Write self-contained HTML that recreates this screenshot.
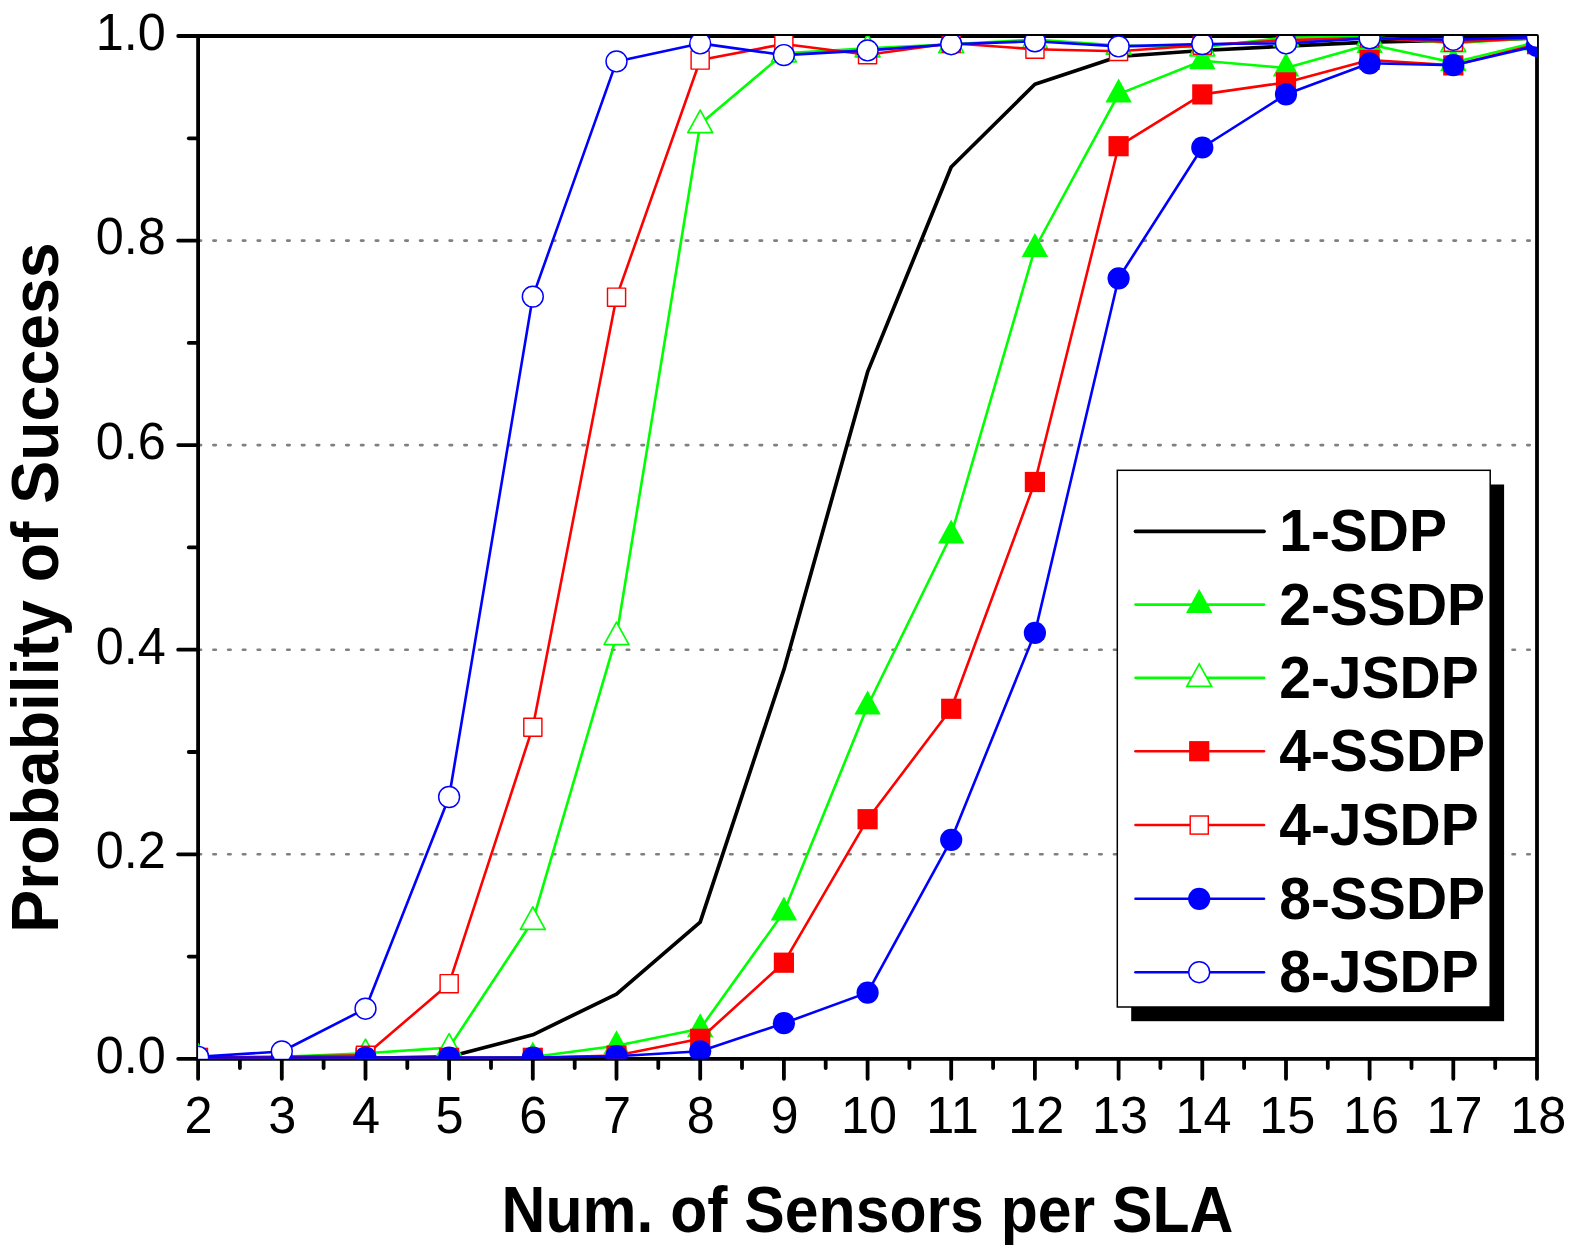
<!DOCTYPE html>
<html><head><meta charset="utf-8"><title>Probability of Success</title>
<style>
html,body{margin:0;padding:0;background:#fff;}
svg{display:block;}
text{font-family:"Liberation Sans",sans-serif;fill:#000;}
.tk{font-size:52.5px;}
.ttl{font-weight:bold;}
.lg{font-size:60px;font-weight:bold;}
</style></head><body>
<svg width="1575" height="1256" viewBox="0 0 1575 1256">
<rect width="1575" height="1256" fill="#fff"/>
<defs><clipPath id="pc"><rect x="198.1" y="36.0" width="1338.9" height="1022.8"/></clipPath></defs>

<g stroke="#808080" stroke-width="2.6" stroke-linecap="round" stroke-dasharray="2.5 12.263" fill="none">
<line x1="198.6" y1="854.3" x2="1533.0" y2="854.3"/>
<line x1="198.6" y1="649.7" x2="1533.0" y2="649.7"/>
<line x1="198.6" y1="445.1" x2="1533.0" y2="445.1"/>
<line x1="198.6" y1="240.6" x2="1533.0" y2="240.6"/>
</g>
<g stroke="#000" stroke-width="3.8" stroke-linecap="round" fill="none">
<rect x="198.1" y="36.0" width="1338.9" height="1022.8" stroke-linejoin="round"/>
<line x1="198.1" y1="1058.8" x2="198.1" y2="1078.8"/>
<line x1="239.9" y1="1058.8" x2="239.9" y2="1068.1"/>
<line x1="281.8" y1="1058.8" x2="281.8" y2="1078.8"/>
<line x1="323.6" y1="1058.8" x2="323.6" y2="1068.1"/>
<line x1="365.5" y1="1058.8" x2="365.5" y2="1078.8"/>
<line x1="407.3" y1="1058.8" x2="407.3" y2="1068.1"/>
<line x1="449.1" y1="1058.8" x2="449.1" y2="1078.8"/>
<line x1="491.0" y1="1058.8" x2="491.0" y2="1068.1"/>
<line x1="532.8" y1="1058.8" x2="532.8" y2="1078.8"/>
<line x1="574.7" y1="1058.8" x2="574.7" y2="1068.1"/>
<line x1="616.5" y1="1058.8" x2="616.5" y2="1078.8"/>
<line x1="658.3" y1="1058.8" x2="658.3" y2="1068.1"/>
<line x1="700.2" y1="1058.8" x2="700.2" y2="1078.8"/>
<line x1="742.0" y1="1058.8" x2="742.0" y2="1068.1"/>
<line x1="783.9" y1="1058.8" x2="783.9" y2="1078.8"/>
<line x1="825.7" y1="1058.8" x2="825.7" y2="1068.1"/>
<line x1="867.6" y1="1058.8" x2="867.6" y2="1078.8"/>
<line x1="909.4" y1="1058.8" x2="909.4" y2="1068.1"/>
<line x1="951.2" y1="1058.8" x2="951.2" y2="1078.8"/>
<line x1="993.1" y1="1058.8" x2="993.1" y2="1068.1"/>
<line x1="1034.9" y1="1058.8" x2="1034.9" y2="1078.8"/>
<line x1="1076.8" y1="1058.8" x2="1076.8" y2="1068.1"/>
<line x1="1118.6" y1="1058.8" x2="1118.6" y2="1078.8"/>
<line x1="1160.4" y1="1058.8" x2="1160.4" y2="1068.1"/>
<line x1="1202.3" y1="1058.8" x2="1202.3" y2="1078.8"/>
<line x1="1244.1" y1="1058.8" x2="1244.1" y2="1068.1"/>
<line x1="1286.0" y1="1058.8" x2="1286.0" y2="1078.8"/>
<line x1="1327.8" y1="1058.8" x2="1327.8" y2="1068.1"/>
<line x1="1369.6" y1="1058.8" x2="1369.6" y2="1078.8"/>
<line x1="1411.5" y1="1058.8" x2="1411.5" y2="1068.1"/>
<line x1="1453.3" y1="1058.8" x2="1453.3" y2="1078.8"/>
<line x1="1495.2" y1="1058.8" x2="1495.2" y2="1068.1"/>
<line x1="1537.0" y1="1058.8" x2="1537.0" y2="1078.8"/>
<line x1="198.1" y1="1058.8" x2="178.2" y2="1058.8"/>
<line x1="198.1" y1="956.6" x2="188.8" y2="956.6"/>
<line x1="198.1" y1="854.3" x2="178.2" y2="854.3"/>
<line x1="198.1" y1="752.0" x2="188.8" y2="752.0"/>
<line x1="198.1" y1="649.7" x2="178.2" y2="649.7"/>
<line x1="198.1" y1="547.4" x2="188.8" y2="547.4"/>
<line x1="198.1" y1="445.1" x2="178.2" y2="445.1"/>
<line x1="198.1" y1="342.9" x2="188.8" y2="342.9"/>
<line x1="198.1" y1="240.6" x2="178.2" y2="240.6"/>
<line x1="198.1" y1="138.3" x2="188.8" y2="138.3"/>
<line x1="198.1" y1="36.0" x2="178.2" y2="36.0"/>
</g>
<g clip-path="url(#pc)" fill="none" stroke-linejoin="round">
<polyline points="198.1,1058.3 281.8,1058.3 365.5,1058.3 449.1,1056.8 532.8,1034.8 616.5,994.1 700.2,922.2 783.9,669.7 867.6,371.9 951.2,167.0 1034.9,84.3 1118.6,56.5 1202.3,50.5 1286.0,46.2 1369.6,42.1 1453.3,40.1 1537.0,38.0" stroke="#000" stroke-width="3.7"/>
<polyline points="198.1,1058.3 281.8,1058.3 365.5,1058.3 449.1,1058.3 532.8,1057.0 616.5,1045.8 700.2,1028.8 783.9,912.1 867.6,706.0 951.2,535.0 1034.9,248.5 1118.6,94.1 1202.3,60.7 1286.0,68.0 1369.6,44.4 1453.3,62.4 1537.0,42.1" stroke="#00ff00" stroke-width="2.6"/>
<polygon points="198.1,1042.7 211.3,1066.8 184.9,1066.8" fill="#00ff00"/>
<polygon points="281.8,1042.7 295.0,1066.8 268.6,1066.8" fill="#00ff00"/>
<polygon points="365.5,1042.7 378.7,1066.8 352.3,1066.8" fill="#00ff00"/>
<polygon points="449.1,1042.7 462.3,1066.8 435.9,1066.8" fill="#00ff00"/>
<polygon points="532.8,1041.4 546.0,1065.5 519.6,1065.5" fill="#00ff00"/>
<polygon points="616.5,1030.2 629.7,1054.3 603.3,1054.3" fill="#00ff00"/>
<polygon points="700.2,1013.2 713.4,1037.3 687.0,1037.3" fill="#00ff00"/>
<polygon points="783.9,896.5 797.1,920.6 770.7,920.6" fill="#00ff00"/>
<polygon points="867.6,690.4 880.8,714.5 854.4,714.5" fill="#00ff00"/>
<polygon points="951.2,519.4 964.4,543.5 938.0,543.5" fill="#00ff00"/>
<polygon points="1034.9,232.9 1048.1,257.0 1021.7,257.0" fill="#00ff00"/>
<polygon points="1118.6,78.5 1131.8,102.6 1105.4,102.6" fill="#00ff00"/>
<polygon points="1202.3,45.1 1215.5,69.2 1189.1,69.2" fill="#00ff00"/>
<polygon points="1286.0,52.4 1299.2,76.5 1272.8,76.5" fill="#00ff00"/>
<polygon points="1369.6,28.8 1382.8,52.9 1356.4,52.9" fill="#00ff00"/>
<polygon points="1453.3,46.8 1466.5,70.9 1440.1,70.9" fill="#00ff00"/>
<polygon points="1537.0,26.5 1550.2,50.6 1523.8,50.6" fill="#00ff00"/>
<polyline points="198.1,1057.8 281.8,1056.8 365.5,1053.2 449.1,1047.6 532.8,920.8 616.5,636.1 700.2,124.1 783.9,53.4 867.6,48.3 951.2,44.2 1034.9,39.6 1118.6,45.6 1202.3,47.3 1286.0,37.5 1369.6,37.0 1453.3,43.2 1537.0,38.0" stroke="#00ff00" stroke-width="2.6"/>
<polygon points="198.1,1043.8 210.5,1066.3 185.7,1066.3" fill="#fff" stroke="#00ff00" stroke-width="1.7"/>
<polygon points="281.8,1042.8 294.2,1065.3 269.4,1065.3" fill="#fff" stroke="#00ff00" stroke-width="1.7"/>
<polygon points="365.5,1039.2 377.9,1061.7 353.1,1061.7" fill="#fff" stroke="#00ff00" stroke-width="1.7"/>
<polygon points="449.1,1033.6 461.5,1056.1 436.7,1056.1" fill="#fff" stroke="#00ff00" stroke-width="1.7"/>
<polygon points="532.8,906.8 545.2,929.3 520.4,929.3" fill="#fff" stroke="#00ff00" stroke-width="1.7"/>
<polygon points="616.5,622.1 628.9,644.6 604.1,644.6" fill="#fff" stroke="#00ff00" stroke-width="1.7"/>
<polygon points="700.2,110.1 712.6,132.6 687.8,132.6" fill="#fff" stroke="#00ff00" stroke-width="1.7"/>
<polygon points="783.9,39.4 796.3,61.9 771.5,61.9" fill="#fff" stroke="#00ff00" stroke-width="1.7"/>
<polygon points="867.6,34.3 880.0,56.8 855.2,56.8" fill="#fff" stroke="#00ff00" stroke-width="1.7"/>
<polygon points="951.2,30.2 963.6,52.7 938.8,52.7" fill="#fff" stroke="#00ff00" stroke-width="1.7"/>
<polygon points="1034.9,25.6 1047.3,48.1 1022.5,48.1" fill="#fff" stroke="#00ff00" stroke-width="1.7"/>
<polygon points="1118.6,31.6 1131.0,54.1 1106.2,54.1" fill="#fff" stroke="#00ff00" stroke-width="1.7"/>
<polygon points="1202.3,33.3 1214.7,55.8 1189.9,55.8" fill="#fff" stroke="#00ff00" stroke-width="1.7"/>
<polygon points="1286.0,23.5 1298.4,46.0 1273.6,46.0" fill="#fff" stroke="#00ff00" stroke-width="1.7"/>
<polygon points="1369.6,23.0 1382.0,45.5 1357.2,45.5" fill="#fff" stroke="#00ff00" stroke-width="1.7"/>
<polygon points="1453.3,29.2 1465.7,51.7 1440.9,51.7" fill="#fff" stroke="#00ff00" stroke-width="1.7"/>
<polygon points="1537.0,24.0 1549.4,46.5 1524.6,46.5" fill="#fff" stroke="#00ff00" stroke-width="1.7"/>
<polyline points="198.1,1057.8 281.8,1057.8 365.5,1057.8 449.1,1057.8 532.8,1057.8 616.5,1055.5 700.2,1038.8 783.9,962.7 867.6,819.2 951.2,708.8 1034.9,482.0 1118.6,146.2 1202.3,94.4 1286.0,82.4 1369.6,60.0 1453.3,65.4 1537.0,44.2" stroke="#ff0000" stroke-width="2.6"/>
<rect x="188.0" y="1047.7" width="20.2" height="20.2" fill="#ff0000"/>
<rect x="271.7" y="1047.7" width="20.2" height="20.2" fill="#ff0000"/>
<rect x="355.4" y="1047.7" width="20.2" height="20.2" fill="#ff0000"/>
<rect x="439.0" y="1047.7" width="20.2" height="20.2" fill="#ff0000"/>
<rect x="522.7" y="1047.7" width="20.2" height="20.2" fill="#ff0000"/>
<rect x="606.4" y="1045.4" width="20.2" height="20.2" fill="#ff0000"/>
<rect x="690.1" y="1028.7" width="20.2" height="20.2" fill="#ff0000"/>
<rect x="773.8" y="952.6" width="20.2" height="20.2" fill="#ff0000"/>
<rect x="857.5" y="809.1" width="20.2" height="20.2" fill="#ff0000"/>
<rect x="941.1" y="698.7" width="20.2" height="20.2" fill="#ff0000"/>
<rect x="1024.8" y="471.9" width="20.2" height="20.2" fill="#ff0000"/>
<rect x="1108.5" y="136.1" width="20.2" height="20.2" fill="#ff0000"/>
<rect x="1192.2" y="84.3" width="20.2" height="20.2" fill="#ff0000"/>
<rect x="1275.9" y="72.3" width="20.2" height="20.2" fill="#ff0000"/>
<rect x="1359.5" y="49.9" width="20.2" height="20.2" fill="#ff0000"/>
<rect x="1443.2" y="55.3" width="20.2" height="20.2" fill="#ff0000"/>
<rect x="1526.9" y="34.1" width="20.2" height="20.2" fill="#ff0000"/>
<polyline points="198.1,1057.8 281.8,1056.8 365.5,1055.3 449.1,983.7 532.8,727.2 616.5,297.1 700.2,60.0 783.9,44.0 867.6,54.7 951.2,43.2 1034.9,49.3 1118.6,51.3 1202.3,45.2 1286.0,40.1 1369.6,38.0 1453.3,42.1 1537.0,38.0" stroke="#ff0000" stroke-width="2.6"/>
<rect x="189.0" y="1048.8" width="18.1" height="18.1" fill="#fff" stroke="#ff0000" stroke-width="1.45"/>
<rect x="272.7" y="1047.8" width="18.1" height="18.1" fill="#fff" stroke="#ff0000" stroke-width="1.45"/>
<rect x="356.4" y="1046.2" width="18.1" height="18.1" fill="#fff" stroke="#ff0000" stroke-width="1.45"/>
<rect x="440.1" y="974.6" width="18.1" height="18.1" fill="#fff" stroke="#ff0000" stroke-width="1.45"/>
<rect x="523.8" y="718.2" width="18.1" height="18.1" fill="#fff" stroke="#ff0000" stroke-width="1.45"/>
<rect x="607.5" y="288.1" width="18.1" height="18.1" fill="#fff" stroke="#ff0000" stroke-width="1.45"/>
<rect x="691.1" y="51.0" width="18.1" height="18.1" fill="#fff" stroke="#ff0000" stroke-width="1.45"/>
<rect x="774.8" y="34.9" width="18.1" height="18.1" fill="#fff" stroke="#ff0000" stroke-width="1.45"/>
<rect x="858.5" y="45.7" width="18.1" height="18.1" fill="#fff" stroke="#ff0000" stroke-width="1.45"/>
<rect x="942.2" y="34.1" width="18.1" height="18.1" fill="#fff" stroke="#ff0000" stroke-width="1.45"/>
<rect x="1025.9" y="40.2" width="18.1" height="18.1" fill="#fff" stroke="#ff0000" stroke-width="1.45"/>
<rect x="1109.5" y="42.3" width="18.1" height="18.1" fill="#fff" stroke="#ff0000" stroke-width="1.45"/>
<rect x="1193.2" y="36.2" width="18.1" height="18.1" fill="#fff" stroke="#ff0000" stroke-width="1.45"/>
<rect x="1276.9" y="31.0" width="18.1" height="18.1" fill="#fff" stroke="#ff0000" stroke-width="1.45"/>
<rect x="1360.6" y="29.0" width="18.1" height="18.1" fill="#fff" stroke="#ff0000" stroke-width="1.45"/>
<rect x="1444.3" y="33.1" width="18.1" height="18.1" fill="#fff" stroke="#ff0000" stroke-width="1.45"/>
<rect x="1528.0" y="29.0" width="18.1" height="18.1" fill="#fff" stroke="#ff0000" stroke-width="1.45"/>
<polyline points="198.1,1057.6 281.8,1057.6 365.5,1057.6 449.1,1057.6 532.8,1057.6 616.5,1056.2 700.2,1051.3 783.9,1023.2 867.6,992.6 951.2,839.8 1034.9,632.9 1118.6,278.3 1202.3,147.5 1286.0,94.3 1369.6,63.3 1453.3,65.2 1537.0,45.8" stroke="#0000ff" stroke-width="2.6"/>
<circle cx="198.1" cy="1057.6" r="11.1" fill="#0000ff"/>
<circle cx="281.8" cy="1057.6" r="11.1" fill="#0000ff"/>
<circle cx="365.5" cy="1057.6" r="11.1" fill="#0000ff"/>
<circle cx="449.1" cy="1057.6" r="11.1" fill="#0000ff"/>
<circle cx="532.8" cy="1057.6" r="11.1" fill="#0000ff"/>
<circle cx="616.5" cy="1056.2" r="11.1" fill="#0000ff"/>
<circle cx="700.2" cy="1051.3" r="11.1" fill="#0000ff"/>
<circle cx="783.9" cy="1023.2" r="11.1" fill="#0000ff"/>
<circle cx="867.6" cy="992.6" r="11.1" fill="#0000ff"/>
<circle cx="951.2" cy="839.8" r="11.1" fill="#0000ff"/>
<circle cx="1034.9" cy="632.9" r="11.1" fill="#0000ff"/>
<circle cx="1118.6" cy="278.3" r="11.1" fill="#0000ff"/>
<circle cx="1202.3" cy="147.5" r="11.1" fill="#0000ff"/>
<circle cx="1286.0" cy="94.3" r="11.1" fill="#0000ff"/>
<circle cx="1369.6" cy="63.3" r="11.1" fill="#0000ff"/>
<circle cx="1453.3" cy="65.2" r="11.1" fill="#0000ff"/>
<circle cx="1537.0" cy="45.8" r="11.1" fill="#0000ff"/>
<polyline points="198.1,1056.8 281.8,1051.5 365.5,1008.7 449.1,797.0 532.8,296.6 616.5,61.4 700.2,43.4 783.9,55.1 867.6,50.4 951.2,44.2 1034.9,41.3 1118.6,46.4 1202.3,44.0 1286.0,43.4 1369.6,38.3 1453.3,39.7 1537.0,37.0" stroke="#0000ff" stroke-width="2.6"/>
<circle cx="198.1" cy="1056.8" r="10.45" fill="#fff" stroke="#0000ff" stroke-width="1.45"/>
<circle cx="281.8" cy="1051.5" r="10.45" fill="#fff" stroke="#0000ff" stroke-width="1.45"/>
<circle cx="365.5" cy="1008.7" r="10.45" fill="#fff" stroke="#0000ff" stroke-width="1.45"/>
<circle cx="449.1" cy="797.0" r="10.45" fill="#fff" stroke="#0000ff" stroke-width="1.45"/>
<circle cx="532.8" cy="296.6" r="10.45" fill="#fff" stroke="#0000ff" stroke-width="1.45"/>
<circle cx="616.5" cy="61.4" r="10.45" fill="#fff" stroke="#0000ff" stroke-width="1.45"/>
<circle cx="700.2" cy="43.4" r="10.45" fill="#fff" stroke="#0000ff" stroke-width="1.45"/>
<circle cx="783.9" cy="55.1" r="10.45" fill="#fff" stroke="#0000ff" stroke-width="1.45"/>
<circle cx="867.6" cy="50.4" r="10.45" fill="#fff" stroke="#0000ff" stroke-width="1.45"/>
<circle cx="951.2" cy="44.2" r="10.45" fill="#fff" stroke="#0000ff" stroke-width="1.45"/>
<circle cx="1034.9" cy="41.3" r="10.45" fill="#fff" stroke="#0000ff" stroke-width="1.45"/>
<circle cx="1118.6" cy="46.4" r="10.45" fill="#fff" stroke="#0000ff" stroke-width="1.45"/>
<circle cx="1202.3" cy="44.0" r="10.45" fill="#fff" stroke="#0000ff" stroke-width="1.45"/>
<circle cx="1286.0" cy="43.4" r="10.45" fill="#fff" stroke="#0000ff" stroke-width="1.45"/>
<circle cx="1369.6" cy="38.3" r="10.45" fill="#fff" stroke="#0000ff" stroke-width="1.45"/>
<circle cx="1453.3" cy="39.7" r="10.45" fill="#fff" stroke="#0000ff" stroke-width="1.45"/>
<circle cx="1537.0" cy="37.0" r="10.45" fill="#fff" stroke="#0000ff" stroke-width="1.45"/>
</g>
<g class="tk" text-anchor="middle">
<text transform="translate(198.6,1133.1) scale(0.96,1)">2</text>
<text transform="translate(282.3,1133.1) scale(0.96,1)">3</text>
<text transform="translate(366.0,1133.1) scale(0.96,1)">4</text>
<text transform="translate(449.6,1133.1) scale(0.96,1)">5</text>
<text transform="translate(533.3,1133.1) scale(0.96,1)">6</text>
<text transform="translate(617.0,1133.1) scale(0.96,1)">7</text>
<text transform="translate(700.7,1133.1) scale(0.96,1)">8</text>
<text transform="translate(784.4,1133.1) scale(0.96,1)">9</text>
<text transform="translate(868.9,1133.1) scale(0.96,1)">10</text>
<text transform="translate(952.5,1133.1) scale(0.96,1)">11</text>
<text transform="translate(1036.2,1133.1) scale(0.96,1)">12</text>
<text transform="translate(1119.9,1133.1) scale(0.96,1)">13</text>
<text transform="translate(1203.6,1133.1) scale(0.96,1)">14</text>
<text transform="translate(1287.3,1133.1) scale(0.96,1)">15</text>
<text transform="translate(1370.9,1133.1) scale(0.96,1)">16</text>
<text transform="translate(1454.6,1133.1) scale(0.96,1)">17</text>
<text transform="translate(1538.3,1133.1) scale(0.96,1)">18</text>
</g>
<g class="tk" text-anchor="end">
<text transform="translate(165.7,1072.6) scale(0.96,1)">0.0</text>
<text transform="translate(165.7,868.1) scale(0.96,1)">0.2</text>
<text transform="translate(165.7,663.5) scale(0.96,1)">0.4</text>
<text transform="translate(165.7,458.9) scale(0.96,1)">0.6</text>
<text transform="translate(165.7,254.4) scale(0.96,1)">0.8</text>
<text transform="translate(165.7,49.8) scale(0.96,1)">1.0</text>
</g>
<text class="ttl" text-anchor="middle" font-size="64.3" transform="translate(867.5,1231.5) scale(0.944,1)">Num. of Sensors per SLA</text>
<text class="ttl" text-anchor="middle" font-size="67" transform="translate(57.6,587.6) rotate(-90) scale(0.961,1)">Probability of Success</text>
<rect x="1131.2" y="484.5" width="372.9" height="536.7" fill="#000"/>
<rect x="1117.3" y="470.3" width="372.9" height="536.7" fill="#fff" stroke="#000" stroke-width="1.5"/>
<line x1="1135.5" y1="531.3" x2="1264" y2="531.3" stroke="#000" stroke-width="3.7" stroke-linecap="round"/>
<text class="lg" transform="translate(1279.2,551.4) scale(0.95,1)">1-SDP</text>
<line x1="1135.5" y1="604.6" x2="1264" y2="604.6" stroke="#00ff00" stroke-width="2.6" stroke-linecap="round"/>
<polygon points="1199.2,589.0 1212.4,613.1 1186.0,613.1" fill="#00ff00"/>
<text class="lg" transform="translate(1279.2,624.7) scale(0.95,1)">2-SSDP</text>
<line x1="1135.5" y1="677.9" x2="1264" y2="677.9" stroke="#00ff00" stroke-width="2.6" stroke-linecap="round"/>
<polygon points="1199.2,663.9 1211.6,686.4 1186.8,686.4" fill="#fff" stroke="#00ff00" stroke-width="1.7"/>
<text class="lg" transform="translate(1279.2,698.0) scale(0.95,1)">2-JSDP</text>
<line x1="1135.5" y1="751.2" x2="1264" y2="751.2" stroke="#ff0000" stroke-width="2.6" stroke-linecap="round"/>
<rect x="1189.1" y="741.1" width="20.2" height="20.2" fill="#ff0000"/>
<text class="lg" transform="translate(1279.2,771.3) scale(0.95,1)">4-SSDP</text>
<line x1="1135.5" y1="825.0" x2="1264" y2="825.0" stroke="#ff0000" stroke-width="2.6" stroke-linecap="round"/>
<rect x="1190.2" y="816.0" width="18.1" height="18.1" fill="#fff" stroke="#ff0000" stroke-width="1.45"/>
<text class="lg" transform="translate(1279.2,845.1) scale(0.95,1)">4-JSDP</text>
<line x1="1135.5" y1="898.8" x2="1264" y2="898.8" stroke="#0000ff" stroke-width="2.6" stroke-linecap="round"/>
<circle cx="1199.2" cy="898.8" r="11.1" fill="#0000ff"/>
<text class="lg" transform="translate(1279.2,918.9) scale(0.95,1)">8-SSDP</text>
<line x1="1135.5" y1="972.2" x2="1264" y2="972.2" stroke="#0000ff" stroke-width="2.6" stroke-linecap="round"/>
<circle cx="1199.2" cy="972.2" r="10.45" fill="#fff" stroke="#0000ff" stroke-width="1.45"/>
<text class="lg" transform="translate(1279.2,992.3) scale(0.95,1)">8-JSDP</text>
</svg></body></html>
